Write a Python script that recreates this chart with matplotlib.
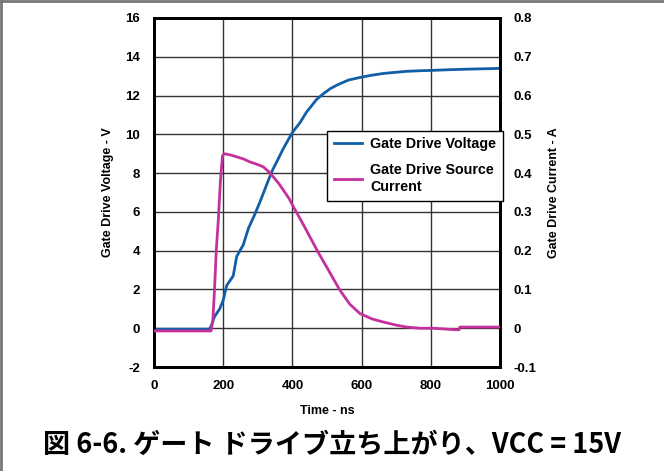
import matplotlib
matplotlib.use("Agg")
import matplotlib.pyplot as plt
from matplotlib.lines import Line2D

plt.rcParams['font.family'] = ['Liberation Sans', 'DejaVu Sans']
plt.rcParams['axes.unicode_minus'] = False

# Gate drive voltage (V) vs time (ns)
v_time = [0, 100, 160, 165, 175, 190, 200, 210, 229, 239, 258, 273, 292, 306, 330, 340,
          374, 400, 422, 441, 470, 490, 509, 530, 562, 600, 630, 663, 700, 730,
          770, 807, 850, 903, 950, 1000]
v_values = [-0.05, -0.05, -0.05, 0.1, 0.6, 1.0, 1.44, 2.2, 2.7, 3.7, 4.3, 5.15, 5.9, 6.5,
            7.6, 8.06, 9.27, 10.1, 10.6, 11.15, 11.8, 12.1, 12.35, 12.55, 12.8,
            12.95, 13.05, 13.14, 13.2, 13.25, 13.28, 13.3, 13.33, 13.36, 13.38, 13.4]

# Gate drive source current (A) vs time (ns)
i_time = [0, 100, 165, 170, 175, 180, 186, 192, 198, 203, 220, 239, 260, 277, 300, 316,
          330, 345, 360, 374, 390, 403, 430, 451, 475, 499, 520, 538, 566, 595, 630,
          663, 700, 730, 770, 807, 840, 874, 882, 884, 940, 1000]
i_values = [-0.007, -0.007, -0.007, 0.02, 0.1, 0.2, 0.28, 0.38, 0.445, 0.45, 0.447, 0.442,
            0.436, 0.429, 0.422, 0.416, 0.405, 0.39, 0.374, 0.356, 0.335, 0.313, 0.27,
            0.235, 0.195, 0.158, 0.125, 0.097, 0.062, 0.038, 0.024, 0.016, 0.008, 0.003,
            0.0, 0.0, -0.002, -0.004, -0.004, 0.003, 0.003, 0.003]

x_ticks = [0, 200, 400, 600, 800, 1000]
y_ticks = [-2, 0, 2, 4, 6, 8, 10, 12, 14, 16]
y2_ticks = [-0.1, 0, 0.1, 0.2, 0.3, 0.4, 0.5, 0.6, 0.7, 0.8]
y2_labels = ['-0.1', '0', '0.1', '0.2', '0.3', '0.4', '0.5', '0.6', '0.7', '0.8']

blue = '#115fa6'
magenta = '#c4309c'

fig = plt.figure(figsize=(6.64, 4.71), dpi=100)
ax = fig.add_axes([0.2319, 0.2208, 0.5211, 0.741])
ax2 = ax.twinx()

ax.set_xlim(0, 1000)
ax.set_ylim(-2, 16)
ax2.set_ylim(-0.1, 0.8)
ax.set_xticks(x_ticks)
ax.set_yticks(y_ticks)
ax2.set_yticks(y2_ticks)
ax2.set_yticklabels(y2_labels)

ax.grid(True, color='#333333', linewidth=1.0)
ax.set_axisbelow(True)

ln1, = ax.plot(v_time, v_values, color=blue, linewidth=2.0, zorder=3)
ln2, = ax2.plot(i_time, i_values, color=magenta, linewidth=2.0, zorder=3)

for a in (ax, ax2):
    for s in a.spines.values():
        s.set_linewidth(2.0)
        s.set_color('black')
    a.tick_params(length=0, labelsize=9.5, pad=10)
    for lab in a.get_xticklabels() + a.get_yticklabels():
        lab.set_fontweight('bold')

ax.tick_params(axis='x', pad=9)
ax.set_xlabel('Time - ns', fontsize=9, fontweight='bold', labelpad=10)
ax.set_ylabel('Gate Drive Voltage - V', fontsize=9, fontweight='bold', labelpad=8)
ax2.set_ylabel('Gate Drive Current - A', fontsize=9, fontweight='bold', labelpad=8)

leg = ax2.legend([ln1, ln2], ['Gate Drive Voltage', 'Gate Drive Source\nCurrent'],
                 loc='upper left', bbox_to_anchor=(0.48, 0.697), frameon=True,
                 fancybox=False, edgecolor='black', framealpha=1,
                 prop={'weight': 'bold', 'size': 10.3}, handlelength=2.0,
                 handletextpad=0.55, borderpad=0.45, borderaxespad=0.5,
                 labelspacing=0.85)
for t in leg.get_texts():
    t.set_linespacing(1.25)
leg.get_frame().set_linewidth(1.0)

fig.text(0.5, 0.055, '図 6-6. ゲート ドライブ立ち上がり、VCC = 15V',
         ha='center', va='center', fontsize=19.5, fontweight='bold',
         family=['Noto Sans CJK JP', 'DejaVu Sans'])

fig.add_artist(Line2D([0, 1], [0.997, 0.997], transform=fig.transFigure,
                      color='#777777', linewidth=2))
fig.add_artist(Line2D([0.001, 0.001], [0, 1], transform=fig.transFigure,
                      color='#777777', linewidth=2))

fig.savefig('out.png', dpi=100)
